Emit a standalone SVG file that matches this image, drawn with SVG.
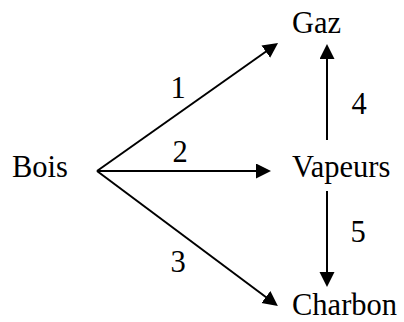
<svg xmlns="http://www.w3.org/2000/svg" width="404" height="322" viewBox="0 0 404 322">
<style>
text{font-family:"Liberation Serif","Times New Roman",serif;font-size:30.5px;fill:#000}
.n{text-anchor:middle}
line{stroke:#000;stroke-width:2;fill:none}
</style>
<defs>
<marker id="ah" markerUnits="userSpaceOnUse" markerWidth="16" markerHeight="16" refX="12" refY="7.5" orient="auto">
<path d="M0,0 L15,7.5 L0,15 z" fill="#000"/>
</marker>
</defs>
<rect width="404" height="322" fill="#fff"/>
<g id="connectors">
<line x1="97" y1="171" x2="275.6" y2="44.7" marker-end="url(#ah)"/>
<line x1="97" y1="171" x2="268" y2="171" marker-end="url(#ah)"/>
<line x1="97" y1="171" x2="275.5" y2="304.2" marker-end="url(#ah)"/>
<line x1="327" y1="140" x2="327" y2="47" marker-end="url(#ah)"/>
<line x1="327" y1="191" x2="327" y2="284" marker-end="url(#ah)"/>
<text class="n" x="178" y="98">1</text>
<text class="n" x="180" y="162">2</text>
<text class="n" x="178" y="272">3</text>
<text class="n" x="359" y="114">4</text>
<text class="n" x="358" y="242">5</text>
</g>
<g id="bois"><text x="12" y="177">Bois</text></g>
<g id="gaz"><text x="292" y="33">Gaz</text></g>
<g id="vapeurs"><text x="292" y="177">Vapeurs</text></g>
<g id="charbon"><text x="292" y="315">Charbon</text></g>
</svg>
